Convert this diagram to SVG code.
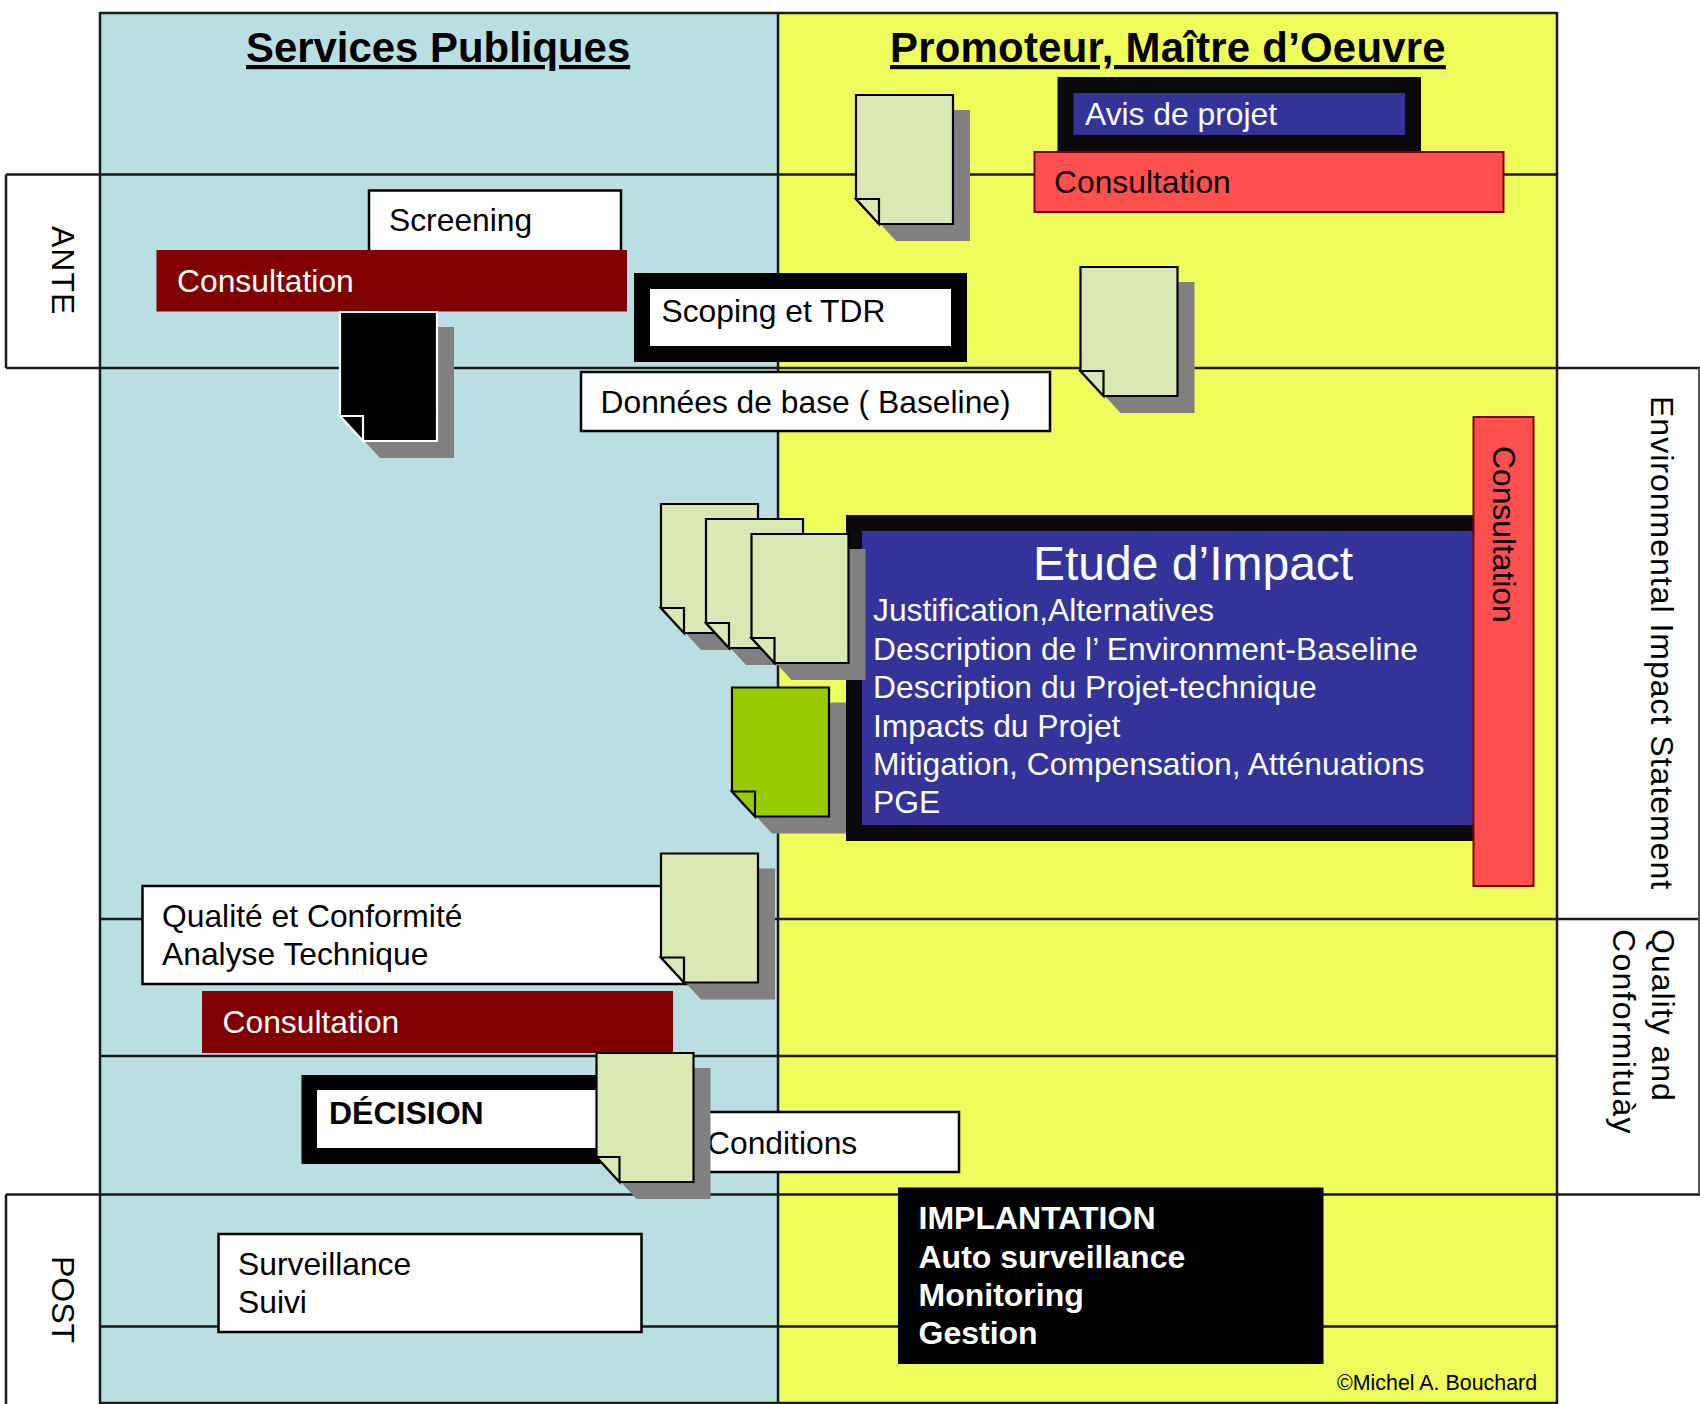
<svg xmlns="http://www.w3.org/2000/svg" xmlns:xlink="http://www.w3.org/1999/xlink" width="1700" height="1404" viewBox="0 0 1700 1404">
<style>
text{font-family:"Liberation Sans",Arial,sans-serif;font-size:31.800px;fill:#000}
.w{fill:#fff}
.b{font-weight:bold;font-size:32px}
.t{font-size:41.900px;font-weight:bold;text-decoration:underline}
.wb{fill:#fff;stroke:#000;stroke-width:2.5}
.nv{fill:#333399}
.blk{fill:#0a0a0a}
.dr{fill:#800000}
.rd{fill:#ff5050;stroke:#800000;stroke-width:2}
.gl{fill:none;stroke:#1a1a1a;stroke-width:2.5}
.sh{fill:#808080}
.pg{stroke:#000;stroke-width:2.2;stroke-linejoin:miter}
.lg{fill:#dae9b3}
.v{font-size:32px;letter-spacing:1px}
</style>
<defs>
<path id="shape" d="M0 0H97V129H23L0 104Z"/>
<path id="fold" d="M0 104H23V129Z"/>
<path id="shade" d="M17 15H114V146H40L17 121Z"/>
<g id="docp">
<use xlink:href="#shade" class="sh" style="stroke:none"/>
<use xlink:href="#shape" class="pg"/>
<use xlink:href="#fold" class="pg"/>
</g>
</defs>
<rect width="1700" height="1404" fill="#fff"/>
<g id="background">
<rect x="100" y="12" width="678" height="1392" fill="#b9dfe2"/>
<rect x="778" y="12" width="779" height="1392" fill="#effd5c"/>
</g>
<g id="connectors">
<path class="gl" d="M100 13H1557M778 12V1404M100 12V1404M1557 12V1404M100 174.500H1557M6 368H1700M100 919H1700M100 1056H1557M6 1194.500H1700M100 1326.500H1557M100 1403H1557"/>
<path class="gl" d="M6 174.500H100M6 174.500V368M6 1194.500V1404"/>
<path d="M1699 368V1194" fill="none" stroke="#555" stroke-width="2"/>
</g>
<g id="title-services"><text class="t" x="246" y="62">Services Publiques</text></g>
<g id="title-promoteur"><text class="t" x="890" y="62" style="letter-spacing:.25px">Promoteur, Maître d’Oeuvre</text></g>
<g id="label-ante"><text class="v" transform="translate(52 226) rotate(90)">ANTE</text></g>
<g id="label-post"><text class="v" transform="translate(52 1256) rotate(90)" style="letter-spacing:0">POST</text></g>
<g id="label-eis"><text class="v" transform="translate(1651 396) rotate(90)">Environmental Impact Statement</text></g>
<g id="label-quality"><text class="v" transform="translate(1652 929) rotate(90)">Quality and</text><text class="v" transform="translate(1613 929) rotate(90)" style="letter-spacing:1.3px">Conformituày</text></g>
<g id="doc-avis"><use xlink:href="#docp" x="856" y="95" class="lg"/></g>
<g id="avis"><rect class="blk" x="1057.500" y="77" width="363.500" height="76"/><rect class="nv" x="1073.500" y="93" width="331.500" height="42"/><text class="w" x="1085" y="125">Avis de projet</text></g>
<g id="consultation-top"><rect class="rd" x="1034.500" y="152" width="469" height="60"/><text x="1054" y="193">Consultation</text></g>
<g id="screening"><rect class="wb" x="369" y="190.500" width="252" height="62"/><text x="389" y="231">Screening</text></g>
<g id="consultation-ante"><rect class="dr" x="156.500" y="250" width="470.500" height="61.500"/><text class="w" x="177" y="292">Consultation</text></g>
<g id="doc-black"><use xlink:href="#shade" class="sh" x="340" y="312"/><use xlink:href="#shape" x="340" y="312" fill="#000" stroke="#fff" stroke-width="2.200"/><use xlink:href="#fold" x="340" y="312" fill="#000" stroke="#fff" stroke-width="2.200"/></g>
<g id="scoping"><rect x="634" y="273" width="333" height="89" fill="#000"/><rect x="650" y="289" width="301" height="57" fill="#fff"/><text x="661.500" y="322">Scoping et TDR</text></g>
<g id="baseline"><rect class="wb" x="581" y="372" width="469" height="59"/><text x="600.500" y="413">Données de base ( Baseline)</text></g>
<g id="doc-scoping"><use xlink:href="#docp" x="1080.500" y="267" class="lg"/></g>
<g id="etude"><rect class="blk" x="846" y="515" width="640" height="326"/><rect class="nv" x="862" y="531" width="620" height="294"/>
<text class="w" x="1033" y="580" style="font-size:48px">Etude d’Impact</text>
<text class="w" x="873" y="621">Justification,Alternatives</text>
<text class="w" x="873" y="660">Description de l’ Environment-Baseline</text>
<text class="w" x="873" y="698">Description du Projet-technique</text>
<text class="w" x="873" y="737">Impacts du Projet</text>
<text class="w" x="873" y="775">Mitigation, Compensation, Atténuations</text>
<text class="w" x="873" y="813">PGE</text></g>
<g id="doc-a"><use xlink:href="#docp" x="661" y="504" class="lg"/></g>
<g id="doc-b"><use xlink:href="#docp" x="706" y="519" class="lg"/></g>
<g id="doc-c"><use xlink:href="#docp" x="751.500" y="534" class="lg"/></g>
<g id="doc-green"><use xlink:href="#docp" x="732" y="687.500" fill="#99cc00"/></g>
<g id="consultation-vertical"><rect class="rd" x="1473.500" y="417" width="60" height="469"/><text transform="translate(1493 446) rotate(90)">Consultation</text></g>
<g id="qualite"><rect class="wb" x="142.500" y="886" width="558" height="98"/><text x="162" y="927">Qualité et Conformité</text><text x="162" y="965">Analyse Technique</text></g>
<g id="doc-qualite"><use xlink:href="#docp" x="661" y="853.500" class="lg"/></g>
<g id="consultation-qc"><rect class="dr" x="202" y="991" width="471" height="62"/><text class="w" x="222.500" y="1033">Consultation</text></g>
<g id="decision"><rect x="301.500" y="1075" width="333" height="89" fill="#000"/><rect x="317" y="1090" width="301" height="58" fill="#fff"/><text class="b" x="329" y="1124">DÉCISION</text></g>
<g id="conditions"><rect class="wb" x="686" y="1112" width="273" height="60"/><text x="707" y="1154">Conditions</text></g>
<g id="doc-decision"><use xlink:href="#docp" x="596.500" y="1053" class="lg"/></g>
<g id="surveillance"><rect class="wb" x="218.500" y="1234" width="423" height="98"/><text x="238" y="1275">Surveillance</text><text x="238" y="1313">Suivi</text></g>
<g id="implantation"><rect x="898" y="1187.500" width="425.500" height="176.500" fill="#000"/>
<text class="w b" x="918.500" y="1229">IMPLANTATION</text><text class="w b" x="918.500" y="1268">Auto surveillance</text><text class="w b" x="918.500" y="1306">Monitoring</text><text class="w b" x="918.500" y="1344">Gestion</text></g>
<g id="copyright"><text x="1337" y="1390" style="font-size:21.400px">©Michel A. Bouchard</text></g>
</svg>
